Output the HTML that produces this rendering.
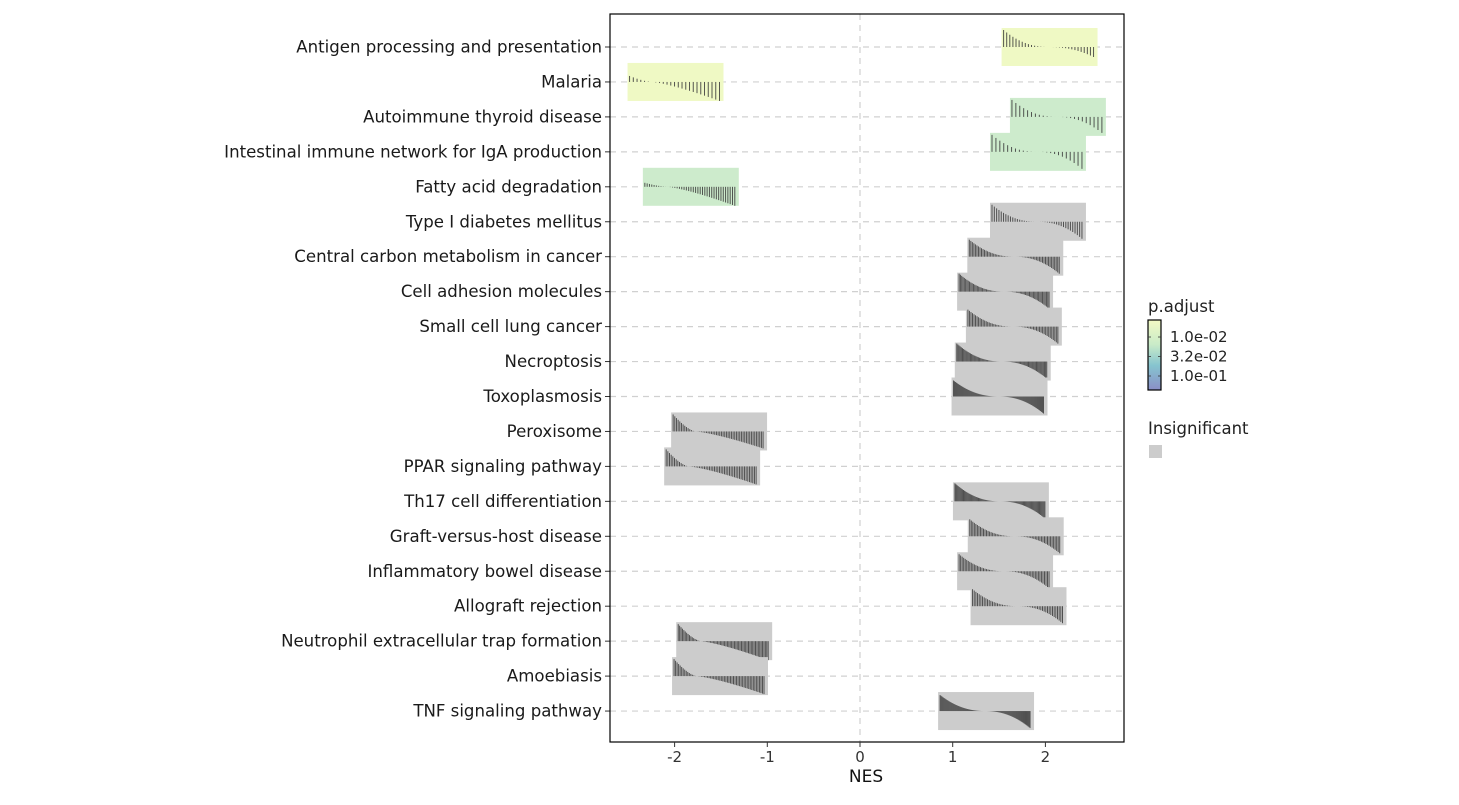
<!DOCTYPE html>
<html><head><meta charset="utf-8"><style>
body{margin:0;background:#fff;}
svg{font-family:"DejaVu Sans","Liberation Sans",sans-serif;}
</style></head><body>
<svg id="c" width="1459" height="800" xmlns="http://www.w3.org/2000/svg"></svg>
<script>
const categories=["Antigen processing and presentation","Malaria","Autoimmune thyroid disease","Intestinal immune network for IgA production","Fatty acid degradation","Type I diabetes mellitus","Central carbon metabolism in cancer","Cell adhesion molecules","Small cell lung cancer","Necroptosis","Toxoplasmosis","Peroxisome","PPAR signaling pathway","Th17 cell differentiation","Graft-versus-host disease","Inflammatory bowel disease","Allograft rejection","Neutrophil extracellular trap formation","Amoebiasis","TNF signaling pathway"];
const nesCenter=[2.045,-1.99,2.135,1.92,-1.825,1.92,1.675,1.565,1.66,1.54,1.505,-1.52,-1.595,1.52,1.68,1.565,1.71,-1.465,-1.51,1.36];
const fillGroup=["y","y","g","g","g","n","n","n","n","n","n","n","n","n","n","n","n","n","n","n"];
const barCount=[30,25,24,24,40,40,60,70,60,80,90,55,55,85,60,60,55,65,60,90];
const upAmp=[17,6,17,17,4,17,17,18,17,18,16,17,17,18,17,17,17,17,17,16];
const downAmp=[10,19,16,17,19,17,17,17,17,17,17,17,18,17,17,17,17,19,18,17];
const xTicks=[-2,-1,0,1,2];
const legendLabels=["1.0e-02","3.2e-02","1.0e-01"];
const S="http://www.w3.org/2000/svg",svg=document.getElementById('c');
function el(t,a,p){const e=document.createElementNS(S,t);for(const k in a)e.setAttribute(k,a[k]);(p||svg).appendChild(e);return e;}
const L=610,R=1124,T=14,B=742;
const x=v=>860+v*92.7;
const y=i=>47+i*34.95;
const colors={y:"#eff9c4",g:"#cdebcc",n:"#cccccc"};
for(let i=0;i<categories.length;i++){const g=el('line',{x1:L,x2:R,y1:y(i),y2:y(i),stroke:'#d0d0d0','stroke-dasharray':'6,5','stroke-width':1.2});
}
const vg=el('line',{x1:x(0),x2:x(0),y1:T,y2:B,stroke:'#d0d0d0','stroke-dasharray':'6,5','stroke-width':1.2});

const hw=1.035/2;
for(let i=0;i<categories.length;i++){
 const gr=el('g',{});
 
 const x0=x(nesCenter[i]-hw),x1=x(nesCenter[i]+hw),cy=y(i);
 const r=el('rect',{x:x0,y:cy-19,width:x1-x0,height:38,fill:colors[fillGroup[i]]},gr);
 
 const n=barCount[i],neg=nesCenter[i]<0;
 const t0=neg?0.25:0.5;
 for(let k=0;k<n;k++){
  const t=k/(n-1);let h;
  if(t<t0){h=-upAmp[i]*Math.pow(1-t/t0,neg?1.5:2.2);}else{h=downAmp[i]*Math.pow((t-t0)/(1-t0),neg?1.3:2.2);}
  const bx=x0+2+t*(x1-x0-6);
  const b=el('line',{x1:bx,x2:bx,y1:cy,y2:cy+h,stroke:'#3a3a3a','stroke-width':1,'stroke-opacity':0.85},gr);
  
 }
 const lab=el('text',{x:602,y:cy+5.5,'text-anchor':'end','font-size':16.6,fill:'#1a1a1a'});
 lab.textContent=categories[i];
 
 const tk=el('line',{x1:605,x2:610,y1:cy,y2:cy,stroke:'#333'});
 
}
const fr=el('rect',{x:L,y:T,width:R-L,height:B-T,fill:'none',stroke:'#000','stroke-width':1.2});

xTicks.forEach(v=>{const t=el('line',{x1:x(v),x2:x(v),y1:B,y2:B+5,stroke:'#333'});
 
 const tx=el('text',{x:x(v),y:B+20,'text-anchor':'middle','font-size':15,fill:'#333'});tx.textContent=v;
 });
const xt=el('text',{x:866,y:782,'text-anchor':'middle','font-size':17,fill:'#111'});xt.textContent='NES';

const defs=el('defs',{});const lg=el('linearGradient',{id:'gr',x1:0,y1:0,x2:0,y2:1},defs);
[["0","#f3fac4"],["0.35","#c9ebc8"],["0.65","#86c4cf"],["1","#8a8fc8"]].forEach(s=>el('stop',{offset:s[0],'stop-color':s[1]},lg));
const lt=el('text',{x:1148,y:312,'font-size':16.5,fill:'#222'});lt.textContent='p.adjust';

const cb=el('rect',{x:1148,y:320,width:13,height:70,fill:'url(#gr)',stroke:'#000','stroke-width':1.2});

legendLabels.forEach((s,k)=>{const yy=337+k*19.5;
 el('line',{x1:1148,x2:1151,y1:yy,y2:yy,stroke:'#333','stroke-width':0.8});el('line',{x1:1158,x2:1161,y1:yy,y2:yy,stroke:'#333','stroke-width':0.8});
 const t=el('text',{x:1170,y:yy+5,'font-size':15,fill:'#222'});t.textContent=s;
 });
const it=el('text',{x:1148,y:434,'font-size':16.5,fill:'#222'});it.textContent='Insignificant';

const ik=el('rect',{x:1149,y:445,width:13,height:13,fill:'#cccccc'});

</script></body></html>
